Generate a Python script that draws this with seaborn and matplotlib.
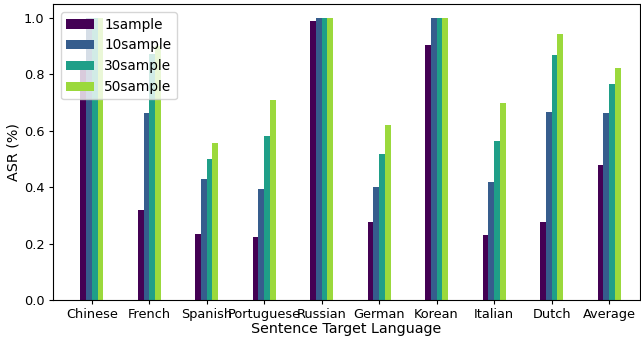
import matplotlib
matplotlib.use("Agg")
import matplotlib.pyplot as plt
import pandas as pd
import seaborn as sns

languages = ["Chinese", "French", "Spanish", "Portuguese", "Russian",
             "German", "Korean", "Italian", "Dutch", "Average"]
series_names = ["1sample", "10sample", "30sample", "50sample"]

asr_1 = [0.84, 0.319, 0.234, 0.223, 0.989, 0.278, 0.905, 0.230, 0.278, 0.480]
asr_10 = [1.00, 0.662, 0.428, 0.392, 1.00, 0.402, 1.00, 0.419, 0.666, 0.664]
asr_30 = [1.00, 0.873, 0.499, 0.582, 1.00, 0.517, 1.00, 0.563, 0.869, 0.767]
asr_50 = [1.00, 0.900, 0.558, 0.710, 1.00, 0.621, 1.00, 0.698, 0.944, 0.824]

frames = []
for name, vals in zip(series_names, [asr_1, asr_10, asr_30, asr_50]):
    frames.append(pd.DataFrame({"language": languages, "samples": name, "asr": vals}))
df = pd.concat(frames, ignore_index=True)

cmap = matplotlib.colormaps["viridis"]
palette = [cmap(v) for v in (0.0, 0.29, 0.56, 0.85)]

W, H = 641, 339
fig = plt.figure(figsize=(W / 100, H / 100), dpi=100)
left, right, top, bottom = 52.7, 639.5, 4.0, 300.0
ax = fig.add_axes([left / W, (H - bottom) / H, (right - left) / W, (bottom - top) / H])

sns.barplot(data=df, x="language", y="asr", hue="samples", hue_order=series_names,
            order=languages, palette=palette, saturation=1, width=0.4, gap=0,
            ax=ax, errorbar=None, linewidth=0)

ax.set_xlim(-0.68, 9.53)
ax.set_ylim(0, 1.05)
ax.set_xlabel("Sentence Target Language", fontsize=10.3, labelpad=0.5)
ax.set_ylabel("ASR (%)", fontsize=10.3, labelpad=2.5)
ax.tick_params(axis="both", labelsize=9.3, length=3.2, pad=2.8)
ax.legend(loc="upper left", fontsize=9.8, title=None, borderaxespad=0.6)

fig.savefig("out.png", dpi=100)
